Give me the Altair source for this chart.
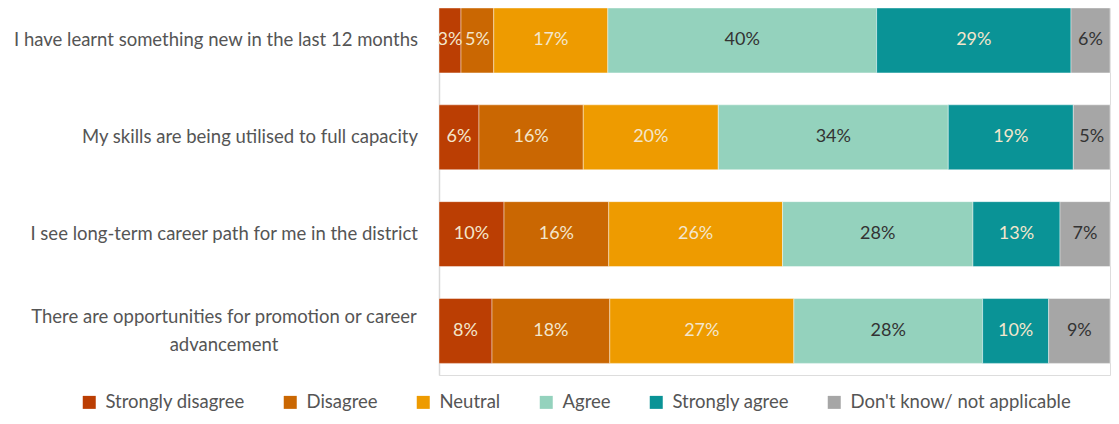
import altair as alt
import pandas as pd

questions = [
    "I have learnt something new in the last 12 months",
    "My skills are being utilised to full capacity",
    "I see long-term career path for me in the district",
    "There are opportunities for promotion or career advancement",
]
question_single = questions[:3]
question_wrapped = "There are opportunities for promotion or career\nadvancement"

responses = ["Strongly disagree", "Disagree", "Neutral", "Agree",
             "Strongly agree", "Don't know/ not applicable"]
colors = ["#BB3E03", "#CA6702", "#EE9B00", "#94D2BD", "#0A9396", "#A6A6A6"]

strongly_disagree = [3.28, 5.96, 9.69, 7.90]
disagree = [4.88, 15.55, 15.60, 17.55]
neutral = [17.00, 20.13, 25.90, 27.43]
agree = [40.06, 34.29, 28.37, 28.13]
strongly_agree = [28.97, 18.64, 12.97, 9.84]
dont_know = [5.81, 5.47, 7.45, 9.14]

series = [strongly_disagree, disagree, neutral, agree, strongly_agree, dont_know]
rows = []
for ri, (resp, vals) in enumerate(zip(responses, series)):
    for q, v in zip(questions, vals):
        rows.append({"question": q, "response": resp, "order": ri, "value": v})
df = pd.DataFrame(rows)

FONT = "Lato"
FS = 18.5

y_enc = alt.Y("question:N", sort=questions, title=None,
              scale=alt.Scale(paddingInner=0.33, paddingOuter=0.06, align=0.0),
              axis=alt.Axis(labels=False, ticks=False, domain=True,
                            domainColor="#d9d9d9", domainWidth=1.5, grid=False))

base = alt.Chart(df).transform_stack(
    stack="value", as_=["x0", "x1"], groupby=["question"],
    sort=[alt.SortField("order", order="ascending")], offset="normalize"
).transform_calculate(mid="(datum.x0 + datum.x1) / 2",
                      label="format(datum.value, '.0f') + '%'")

bars = base.mark_bar(stroke="#ffffff", strokeWidth=0.6, strokeOpacity=0.7).encode(
    x=alt.X("x0:Q", scale=alt.Scale(domain=[0, 1], nice=False), axis=None),
    x2="x1:Q",
    y=y_enc,
    color=alt.Color("response:N", sort=responses,
                    scale=alt.Scale(domain=responses, range=colors),
                    legend=alt.Legend(title=None, orient="none", direction="horizontal",
                                      legendX=-359, legendY=385,
                                      symbolType="square", symbolSize=169,
                                      symbolStrokeWidth=0,
                                      labelFont=FONT, labelFontSize=18.5,
                                      labelColor="#555555", labelOffset=7,
                                      labelLimit=400, columnPadding=36)),
)

texts = base.mark_text(font=FONT, fontSize=18, baseline="middle", align="center").encode(
    x=alt.X("mid:Q"),
    y=alt.Y("question:N", sort=questions),
    text="label:N",
    color=alt.condition(
        alt.FieldOneOfPredicate(field="response", oneOf=["Agree", "Don't know/ not applicable"]),
        alt.value("#333333"), alt.value("#F3E6CC")),
)

ylab_df = pd.DataFrame({"question": question_single})
ylabels = alt.Chart(ylab_df).mark_text(
    font=FONT, fontSize=FS, align="right", baseline="middle", color="#555555"
).encode(
    x=alt.value(-21),
    y=alt.Y("question:N", sort=questions),
    text="question:N",
)

ywrap_df = pd.DataFrame({"question": [questions[3]], "text": [question_wrapped]})
ywrap = alt.Chart(ywrap_df).mark_text(
    font=FONT, fontSize=FS, align="center", baseline="middle", color="#555555",
    lineBreak="\n", lineHeight=28, dy=-14
).encode(
    x=alt.value(-215),
    y=alt.Y("question:N", sort=questions),
    text="text:N",
)

chart = alt.layer(bars, texts, ylabels, ywrap).properties(
    width=671, height=367,
    autosize=alt.AutoSizeParams(type="none"),
    padding={"left": 431, "top": 0, "right": 1, "bottom": 41},
).configure_view(stroke=None).configure(font=FONT)

chart.save("out.html", embed_options={"renderer": "svg", "actions": False})
